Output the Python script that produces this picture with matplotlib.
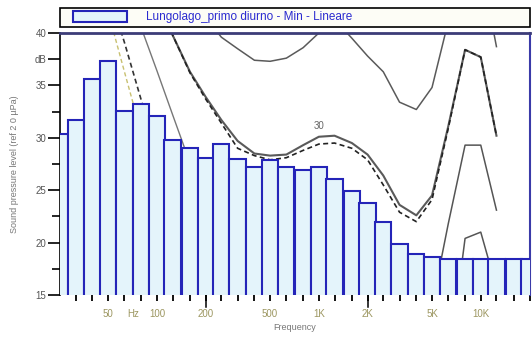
import numpy as np
import matplotlib.pyplot as plt
import matplotlib.patches as mpatches
from matplotlib.legend_handler import HandlerPatch

plt.rcParams['font.family'] = ['Liberation Sans', 'DejaVu Sans']

# 1/3 octave spectrum, Lungolago primo diurno - Min - Lineare
bands = [25, 31.5, 40, 50, 63, 80, 100, 125, 160, 200, 250, 315, 400, 500, 630,
         800, 1000, 1250, 1600, 2000, 2500, 3150, 4000, 5000, 6300, 8000, 10000,
         12500, 16000, 20000]
levels = [30.4, 31.7, 35.6, 37.3, 32.6, 33.2, 32.1, 29.8, 29.0, 28.1, 29.4, 28.0,
          27.2, 27.9, 27.2, 26.9, 27.2, 26.1, 24.9, 23.8, 22.0, 19.9, 18.9, 18.6,
          18.4, 18.4, 18.4, 18.4, 18.4, 18.4]

# isophonic curves (visible parts)
iso_freq = [100, 125, 160, 200, 250, 315, 400, 500, 630, 800, 1000, 1250, 1600,
            2000, 2500, 3150, 4000, 5000, 6300, 8000, 10000, 12500]
phon30 = [43.0, 39.8, 36.3, 33.9, 31.7, 29.7, 28.5, 28.3, 28.4, 29.3, 30.1, 30.2,
          29.5, 28.4, 26.4, 23.6, 22.6, 24.5, 31.1, 38.4, 37.7, 30.2]
phon30_b = [43.0, 39.8, 36.2, 33.7, 31.4, 29.0, 28.3, 27.9, 28.1, 28.8, 29.4, 29.5,
            29.0, 27.9, 25.5, 22.9, 22.0, 24.1, 30.9, 38.4, 37.7, 30.2]
phon40 = [np.nan, np.nan, np.nan, 41.5, 39.6, 38.5, 37.4, 37.3, 37.6, 38.6, 40.0,
          41.3, 39.5, 37.8, 36.3, 33.4, 32.7, 34.8, 41.1, 47.5, 46.5, 38.7]

thr_freq = [50, 63, 80]
thr_low = [42.0, 36.3, 30.5]
p10_freq = [50, 63, 80, 100]
p10_low = [44.1, 39.1, 33.6, 28.6]
p20_freq = [80, 100, 125, 160]
p20_low = [40.5, 36.4, 32.2, 27.6]
hf_freq = [5000, 6300, 8000, 10000, 12500]
p20_high = [14.0, 21.8, 29.3, 29.3, 23.1]
p10_high = [np.nan, 8.0, 20.4, 21.0, 15.7]

xt_pos = [50, 71, 100, 200, 500, 1000, 2000, 5000, 10000]
xt_lab = ['50', 'Hz', '100', '200', '500', '1K', '2K', '5K', '10K']

bar_edge = '#2424b8'
bar_fill = '#e4f4fb'

fig = plt.figure(figsize=(5.32, 3.37), dpi=100)
ax = fig.add_axes([60 / 532, 1 - 295 / 337, 469.5 / 532, 262 / 337])

ax.set_xscale('log')
ax.set_xlim(25.2, 20000)
ax.set_ylim(15, 40)

# curves behind the bars
ax.plot(iso_freq, phon40, color='#5a5a5a', lw=1.1, zorder=2)
ax.plot(iso_freq, phon30, color='#5a5a5a', lw=1.5, zorder=2)
ax.plot(iso_freq, phon30_b, color='#222222', lw=1.2, ls=(0, (3, 2)), zorder=2)
ax.plot(thr_freq, thr_low, color='#c8c070', lw=1.0, ls=(0, (3, 2)), zorder=2)
ax.plot(p10_freq, p10_low, color='#333333', lw=1.2, ls=(0, (3, 2)), zorder=2)
ax.plot(p20_freq, p20_low, color='#777777', lw=1.0, zorder=2)
ax.plot(hf_freq, p20_high, color='#555555', lw=1.1, zorder=2)
ax.plot(hf_freq, p10_high, color='#555555', lw=1.1, zorder=2)
ax.text(1000, 31.1, '30', fontsize=7, color='#666666', ha='center', va='center')

# bars, bottom below the axis so no bottom edge is shown
b = np.array(bands, dtype=float)
lo = b / 2 ** (1 / 6)
hi = b * 2 ** (1 / 6)
lv = np.array(levels)
bars = ax.bar(lo, lv - 10, width=hi - lo, bottom=10, align='edge',
              color=bar_fill, edgecolor=bar_edge, linewidth=1.5, zorder=3)

# axes look
ax.spines['bottom'].set_visible(False)
ax.spines['left'].set_color('black')
ax.spines['left'].set_linewidth(1.2)
ax.spines['top'].set_color('#3c3c78')
ax.spines['top'].set_linewidth(2)
ax.spines['right'].set_color('#3a3aa8')
ax.spines['right'].set_linewidth(1.5)

ax.set_yticks([15, 20, 25, 30, 35, 37.5, 40], ['15', '20', '25', '30', '35', 'dB', '40'])
ax.set_yticks([17.5, 22.5, 27.5, 32.5], minor=True)
ax.tick_params(axis='y', which='major', length=9, width=1.2, labelsize=7,
               labelcolor='#555555', pad=1)
ax.tick_params(axis='y', which='minor', length=6, width=1.2)

ax.xaxis.remove_overlapping_locs = False
ax.set_xticks(xt_pos, xt_lab)
ax.set_xticks(bands[1:], minor=True)
ax.xaxis.set_minor_formatter(plt.NullFormatter())
ax.tick_params(axis='x', which='major', length=0, labelsize=7,
               labelcolor='#9c9660', pad=10)
ax.tick_params(axis='x', which='minor', length=4, width=1.3, color='black')
for f in (200, 2000):
    ax.plot([f, f], [0, -0.045], transform=ax.get_xaxis_transform(),
            color='black', lw=1.1, clip_on=False)

ax.set_xlabel('Frequency', fontsize=6.5, color='#777777')
ax.xaxis.set_label_coords(0.5, -0.105)
ax.set_ylabel('Sound pressure level (ref 2 0 \u00b5Pa)', fontsize=6.5, color='#777777')
ax.yaxis.set_label_coords(-0.088, 0.5)

proxy = mpatches.Patch(facecolor=bar_fill, edgecolor=bar_edge, linewidth=1.5)
leg = ax.legend([proxy], ['Lungolago_primo diurno - Min - Lineare'],
                loc='lower left', bbox_to_anchor=(0, 1.023, 1, 0.07), mode='expand',
                borderaxespad=0, fancybox=False, edgecolor='black', framealpha=1,
                facecolor='#fdfdf6', handlelength=5.4, handleheight=1.0,
                handletextpad=1.6, borderpad=0.3, prop={'size': 8.5},
                labelcolor='#2b2bd0',
                handler_map={mpatches.Patch: HandlerPatch(xpad=0.8)})
leg.get_frame().set_linewidth(1.2)

fig.savefig('out.png', dpi=100)
